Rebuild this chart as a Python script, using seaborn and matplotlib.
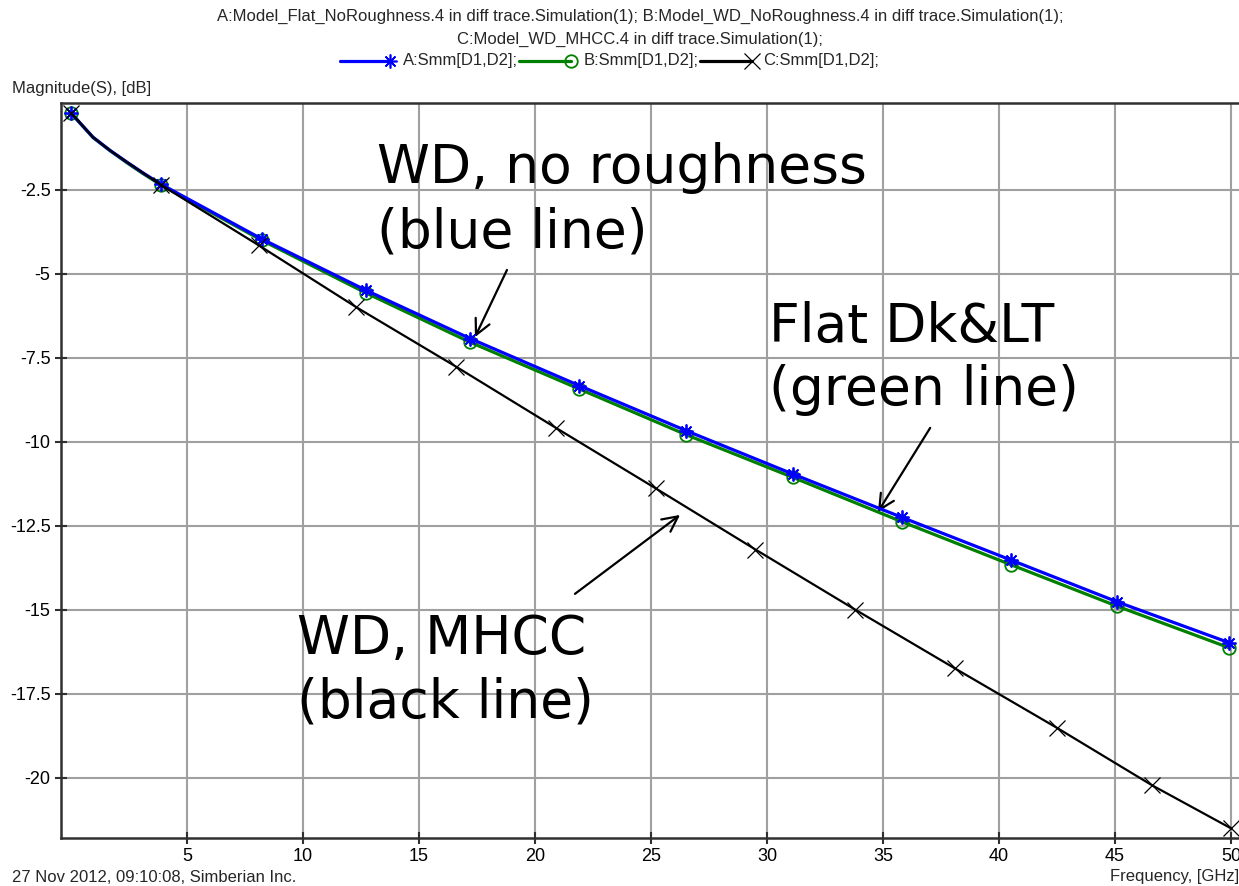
import matplotlib
matplotlib.use("Agg")
import matplotlib.pyplot as plt
from matplotlib.lines import Line2D
import seaborn as sns

# ---- data: insertion loss of the differential trace, Smm[D1,D2] in dB ----
freq_ab = [0.0, 0.95, 1.68, 2.41, 3.1, 3.88, 8.23, 12.7, 17.2, 21.9, 26.5,
           31.1, 35.8, 40.5, 45.1, 49.9]
smm_a = [-0.21, -0.93, -1.32, -1.67, -1.99, -2.33, -3.96, -5.48, -6.92, -8.32,
         -9.66, -10.95, -12.24, -13.51, -14.76, -15.97]
smm_b = [-0.21, -0.94, -1.33, -1.69, -2.01, -2.35, -4.00, -5.56, -7.03, -8.42,
         -9.78, -11.05, -12.37, -13.65, -14.89, -16.12]
marks_ab = [0, 5, 6, 7, 8, 9, 10, 11, 12, 13, 14, 15]

freq_c = [0.0, 0.95, 1.68, 2.41, 3.1, 3.88, 8.1, 12.3, 16.6, 20.9, 25.2, 29.5,
          33.8, 38.1, 42.5, 46.6, 50.0]
smm_c = [-0.21, -0.93, -1.32, -1.67, -1.99, -2.35, -4.15, -5.99, -7.76, -9.58,
         -11.38, -13.2, -14.99, -16.74, -18.51, -20.22, -21.5]
marks_c = [0, 5, 6, 7, 8, 9, 10, 11, 12, 13, 14, 15, 16]

x_ticks = [5, 10, 15, 20, 25, 30, 35, 40, 45, 50]
y_ticks = [-2.5, -5, -7.5, -10, -12.5, -15, -17.5, -20]
y_tick_labels = ["-2.5", "-5", "-7.5", "-10", "-12.5", "-15", "-17.5", "-20"]

title_lines = [
    "A:Model_Flat_NoRoughness.4 in diff trace.Simulation(1); "
    "B:Model_WD_NoRoughness.4 in diff trace.Simulation(1);",
    "C:Model_WD_MHCC.4 in diff trace.Simulation(1);",
]
legend_labels = ["A:Smm[D1,D2];", "B:Smm[D1,D2];", "C:Smm[D1,D2];"]

BLUE, GREEN, BLACK = "#0000ff", "#008000", "#000000"
GRID = "#a0a0a0"
AXIS = "#303030"

sns.set_theme(style="white")
plt.rcParams["axes.unicode_minus"] = False
plt.rcParams["font.family"] = ["DejaVu Sans"]
SMALL = ["Liberation Sans Narrow", "Liberation Sans", "DejaVu Sans"]

W, H = 1239, 886
fig = plt.figure(figsize=(W / 100, H / 100), dpi=100)


def fx(px):
    return px / W


def fy(py):
    return 1 - py / H


ax = fig.add_axes([fx(61), fy(838), fx(1239) - fx(61), fy(103) - fy(838)])
ax.set_xlim(-0.431, 50.34)
ax.set_ylim(-21.786, 0.089)

# grid
ax.set_xticks(x_ticks)
ax.set_yticks(y_ticks)
ax.set_yticklabels(y_tick_labels)
ax.grid(True, color=GRID, lw=1.5, zorder=0)
ax.set_axisbelow(True)

for side in ("left", "bottom", "top"):
    ax.spines[side].set_color(AXIS)
    ax.spines[side].set_linewidth(1.8)
ax.spines["right"].set_visible(False)
ax.tick_params(direction="inout", length=9, width=1.5, color=AXIS,
               labelsize=13, pad=3, left=True, bottom=True)
for lab in ax.get_xticklabels() + ax.get_yticklabels():
    lab.set_family(SMALL)
    lab.set_color("#000000")

# traces
sns.lineplot(x=freq_ab, y=smm_b, ax=ax, color=GREEN, lw=2.3,
             marker="o", markevery=marks_ab, ms=9, mfc="none", mec=GREEN,
             mew=1.3, zorder=3, clip_on=False)
sns.lineplot(x=freq_ab, y=smm_a, ax=ax, color=BLUE, lw=2.3,
             marker=(8, 2, 0), markevery=marks_ab, ms=10, mec=BLUE,
             mew=1.3, zorder=4, clip_on=False)
sns.lineplot(x=freq_c, y=smm_c, ax=ax, color=BLACK, lw=1.6,
             marker="x", markevery=marks_c, ms=11, mec=BLACK,
             mew=0.9, zorder=5, clip_on=False)
ax.set_xlabel("")
ax.set_ylabel("")

# callouts
big = dict(fontsize=38.5, color="black", va="baseline", ha="left", zorder=6)
arrow = dict(arrowstyle="->,head_length=0.5,head_width=0.25", color="black",
             lw=1.6, mutation_scale=22, shrinkA=0, shrinkB=0)

ax.text(13.19, -2.29, "WD, no roughness", **big)
ax.text(13.19, -4.20, "(blue line)", **big)
ax.annotate("", xy=(17.41, -6.88), xytext=(18.79, -4.88), arrowprops=arrow)

ax.text(30.1, -7.02, "Flat Dk&LT", **big)
ax.text(30.1, -8.90, "(green line)", **big)
ax.annotate("", xy=(34.78, -12.08), xytext=(37.03, -9.58), arrowprops=arrow)

ax.text(9.74, -16.31, "WD, MHCC", **big)
ax.text(9.74, -18.21, "(black line)", **big)
ax.annotate("", xy=(26.25, -12.17), xytext=(21.72, -14.52), arrowprops=arrow)

# header
fig.text(fx(640), fy(16), title_lines[0], ha="center", va="center",
         fontsize=12, family=SMALL)
fig.text(fx(640), fy(39), title_lines[1], ha="center", va="center",
         fontsize=12, family=SMALL)

legend_items = [
    (340, 390, 403, BLUE, dict(marker=(8, 2, 0), ms=10, mec=BLUE, mew=1.2),
     2.3, legend_labels[0]),
    (519, 571, 584, GREEN, dict(marker="o", ms=9, mfc="none", mec=GREEN,
                                mew=1.3), 2.3, legend_labels[1]),
    (700, 752, 763, BLACK, dict(marker="x", ms=11, mec=BLACK, mew=0.9),
     2.3, legend_labels[2]),
]
for x0, x1, xt, col, mk, lw, lab in legend_items:
    fig.add_artist(Line2D([fx(x0), fx(x1)], [fy(61), fy(61)],
                          transform=fig.transFigure, color=col, lw=lw,
                          markevery=[1], **mk))
    fig.text(fx(xt), fy(61), lab, ha="left", va="center", fontsize=12,
             family=SMALL)

fig.text(fx(12), fy(88), "Magnitude(S), [dB]", ha="left", va="center",
         fontsize=12, family=SMALL)
fig.text(fx(12), fy(877), "27 Nov 2012, 09:10:08, Simberian Inc.",
         ha="left", va="center", fontsize=12, family=SMALL)
fig.text(fx(1110), fy(877), "Frequency, [GHz]", ha="left", va="center",
         fontsize=12, family=SMALL)

fig.savefig("out.png", dpi=100, facecolor="white")
